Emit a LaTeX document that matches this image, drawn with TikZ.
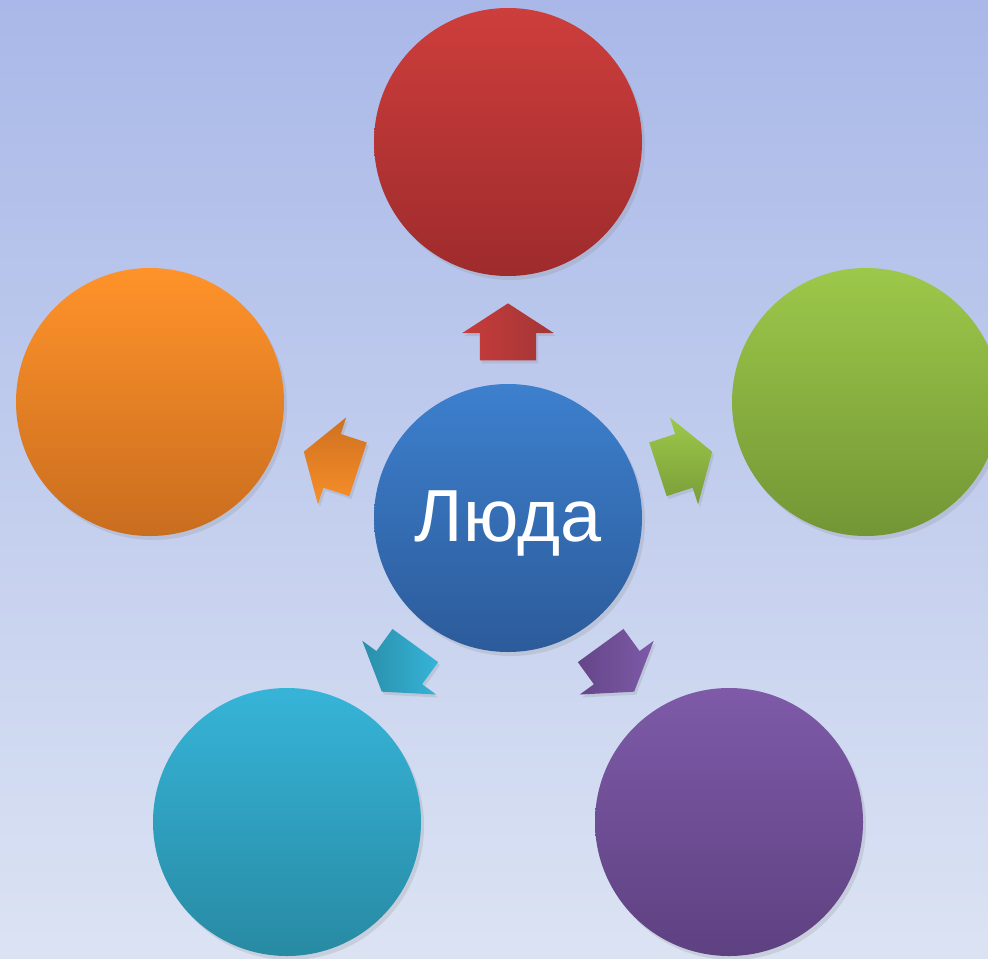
\documentclass[tikz,border=0pt]{standalone}
\usepackage{fontspec}
\setmainfont{Liberation Sans}
\usetikzlibrary{positioning,shadows,shapes.arrows}

\definecolor{bgtop}{HTML}{A9B8E8}
\definecolor{bgbot}{HTML}{DBE3F3}
\definecolor{blueA}{HTML}{3D80CE}
\definecolor{blueB}{HTML}{2C5B9A}
\definecolor{redA}{HTML}{CD3E3C}
\definecolor{redB}{HTML}{9E2B2C}
\definecolor{orangeA}{HTML}{FF932A}
\definecolor{orangeB}{HTML}{C96D1F}
\definecolor{greenA}{HTML}{9CC84A}
\definecolor{greenB}{HTML}{739635}
\definecolor{cyanA}{HTML}{36B4D8}
\definecolor{cyanB}{HTML}{288AA3}
\definecolor{purpleA}{HTML}{7E5AA8}
\definecolor{purpleB}{HTML}{5E4181}

\begin{document}
\begin{tikzpicture}
[>=stealth,
bubble/.style = {circle, minimum size = 2.68cm, inner sep = 0pt,
  drop shadow = {shadow xshift = .03cm, shadow yshift = -.04cm, opacity = .2}},
blockarrow/.style = {single arrow, minimum height = .57cm, minimum width = .9cm,
  inner sep = 0pt, inner ysep = .275cm, single arrow head extend = .175cm,
  single arrow tip angle = 114,
  drop shadow = {shadow xshift = .02cm, shadow yshift = -.03cm, opacity = .2}},]
\useasboundingbox (-5.08,-4.40) rectangle (4.80,5.18);
\clip (-5.08,-4.40) rectangle (4.80,5.18);
\shade [top color = bgtop, bottom color = bgbot] (-5.08,-4.40) rectangle (4.80,5.18);
% circles
\node (Ljuda) at (0,0)[bubble, top color = blueA, bottom color = blueB, text = white,
  font = \fontsize{21}{25}\selectfont] {\raisebox{-.05cm}[\height][\depth]{Люда}};
\node (T) at (0,3.76)[bubble, top color = redA, bottom color = redB] {};
\node (W) at (-3.58,1.16)[bubble, top color = orangeA, bottom color = orangeB] {};
\node (E) at (3.58,1.16)[bubble, top color = greenA, bottom color = greenB] {};
\node (SW) at (-2.21,-3.04)[bubble, top color = cyanA, bottom color = cyanB] {};
\node (SE) at (2.21,-3.04)[bubble, top color = purpleA, bottom color = purpleB] {};
% arrows
\node (aT) at (90:1.77)[blockarrow, rotate = 90, left color = redA!97!black, right color = redB!95!white] {};
\node (aW) at (162:1.77)[blockarrow, rotate = 162, top color = orangeB!90!orangeA, bottom color = orangeA!97!black] {};
\node (aE) at (18:1.77)[blockarrow, rotate = 18, top color = greenA, bottom color = greenB!85!greenA] {};
\node (aSW) at (234:1.77)[blockarrow, rotate = 234, left color = cyanB!90!cyanA, right color = cyanA] {};
\node (aSE) at (306:1.77)[blockarrow, rotate = 306, left color = purpleB!80!purpleA, right color = purpleA] {};
\end{tikzpicture}
\end{document}
